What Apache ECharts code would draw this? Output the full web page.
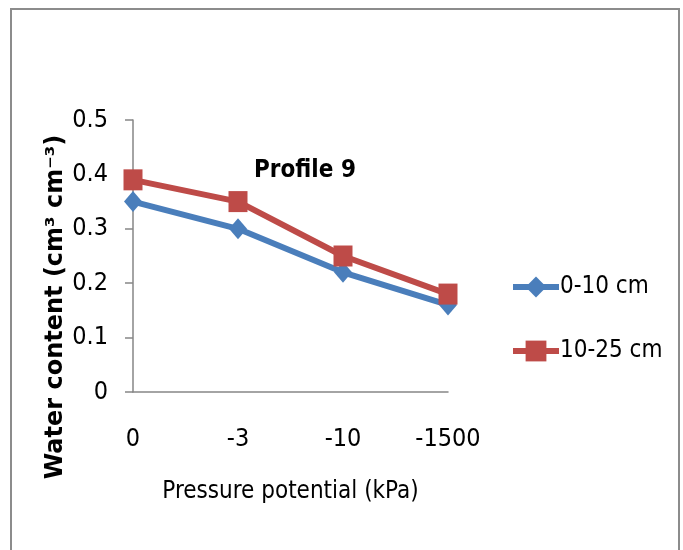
<!DOCTYPE html>
<html>
<head>
<meta charset="utf-8">
<script src="https://cdn.jsdelivr.net/npm/echarts@6/dist/echarts.min.js"></script>
<style>
html,body{margin:0;padding:0;background:#fff;}
#chart{width:683px;height:550px;}
</style>
</head>
<body>
<div id="chart"></div>
<script>
var categories = ['0', '-3', '-10', '-1500'];
var series0to10 = [0.35, 0.30, 0.22, 0.16];
var series10to25 = [0.39, 0.35, 0.25, 0.18];
var seriesNames = ['0-10 cm', '10-25 cm'];
var yTicks = [0, 0.1, 0.2, 0.3, 0.4, 0.5];

var NARROW = "'Liberation Sans Narrow', 'DejaVu Sans Condensed', sans-serif";
var axisGray = '#868686';

var chart = echarts.init(document.getElementById('chart'), null, {renderer: 'canvas'});
chart.setOption({
  animation: false,
  backgroundColor: '#ffffff',
  grid: {left: 133, right: 235, top: 120, bottom: 158, containLabel: false},
  xAxis: {
    type: 'category',
    data: categories,
    boundaryGap: false,
    axisLine: {lineStyle: {color: axisGray, width: 1.5}},
    axisTick: {show: false},
    axisLabel: {fontFamily: NARROW, fontSize: 25, color: '#000', margin: 35},
    splitLine: {show: false},
    name: 'Pressure potential (kPa)',
    nameLocation: 'middle',
    nameGap: 88,
    nameTextStyle: {fontFamily: NARROW, fontSize: 24, color: '#000', verticalAlign: 'top'}
  },
  yAxis: {
    type: 'value',
    min: yTicks[0],
    max: yTicks[yTicks.length - 1],
    interval: 0.1,
    axisLine: {show: true, lineStyle: {color: axisGray, width: 1.5}},
    axisTick: {show: true, length: 8, lineStyle: {color: axisGray, width: 1.5}},
    axisLabel: {fontFamily: NARROW, fontSize: 25, color: '#000', margin: 25,
      formatter: function (v) { return String(Math.round(v * 10) / 10); }},
    splitLine: {show: false}
  },
  legend: {
    orient: 'vertical',
    left: 510,
    top: 275,
    padding: 0,
    itemWidth: 46,
    itemHeight: 26,
    itemGap: 40,
    lineStyle: {width: 6},
    textStyle: {fontFamily: NARROW, fontSize: 24, color: '#000', padding: [0, 0, 0, -4]},
    data: seriesNames
  },
  series: [
    {
      name: seriesNames[0],
      type: 'line',
      data: series0to10,
      symbol: 'diamond',
      symbolSize: [18, 21],
      lineStyle: {color: '#4A7EBB', width: 6},
      itemStyle: {color: '#4A7EBB'},
      z: 2
    },
    {
      name: seriesNames[1],
      type: 'line',
      data: series10to25,
      symbol: 'rect',
      symbolSize: [19, 21],
      lineStyle: {color: '#BE4B48', width: 6},
      itemStyle: {color: '#BE4B48'},
      z: 3
    }
  ],
  graphic: [
    {
      type: 'rect',
      shape: {x: 11, y: 9, width: 668, height: 570},
      style: {fill: 'none', stroke: '#8c8c8c', lineWidth: 2},
      silent: true
    },
    {
      type: 'text',
      x: 305, y: 171,
      style: {text: 'Profile 9', font: "bold 24px 'Liberation Sans Narrow', 'DejaVu Sans Condensed', sans-serif",
        fill: '#000', textAlign: 'center', textVerticalAlign: 'middle'}
    },
    {
      type: 'text',
      x: 56, y: 307,
      rotation: Math.PI / 2,
      style: {text: 'Water content (cm³ cm⁻³)', font: "bold 24px 'DejaVu Sans', sans-serif",
        fill: '#000', textAlign: 'center', textVerticalAlign: 'middle'}
    }
  ]
});
</script>
</body>
</html>
